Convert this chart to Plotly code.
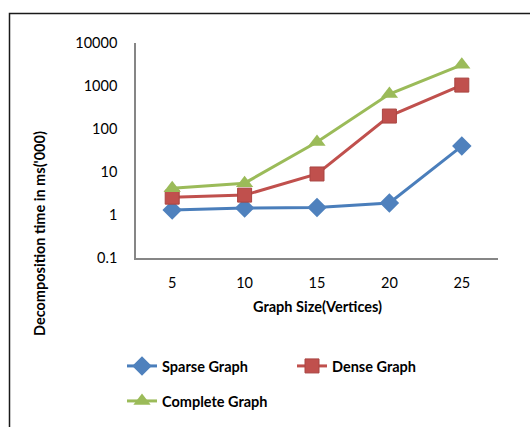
import plotly.graph_objects as go

categories = ["5", "10", "15", "20", "25"]
sparse = [1.3, 1.45, 1.5, 1.9, 40]
dense = [2.6, 2.9, 9, 200, 1050]
complete = [4.2, 5.5, 50, 650, 3100]
y_tickvals = [0.1, 1, 10, 100, 1000, 10000]
y_ticktext = ["0.1", "1", "10", "100", "1000", "10000"]

FONT = "Lato"
FS = 14.5
W, H = 530, 427
L, R, T, B = 136, 32, 43, 169
pw, ph = W - L - R, H - T - B

def px_x(x):
    return (x - L) / pw

def px_y(y):
    return (H - B - y) / ph

fig = go.Figure()
fig.add_trace(go.Scatter(x=categories, y=sparse, name="<b>Sparse Graph</b>", mode="lines+markers",
                         line=dict(color="#4A7EBB", width=3),
                         marker=dict(symbol="diamond", size=15, color="#4F81BD"),
                         legend="legend"))
fig.add_trace(go.Scatter(x=categories, y=dense, name="<b>Dense Graph</b>", mode="lines+markers",
                         line=dict(color="#C0504D", width=3),
                         marker=dict(symbol="square", size=14, color="#C0504D",
                                     line=dict(color="#A94542", width=1)),
                         legend="legend"))
fig.add_trace(go.Scatter(x=categories, y=complete, name="<b>Complete Graph</b>", mode="lines+markers",
                         line=dict(color="#9BBB59", width=3),
                         marker=dict(symbol="triangle-up", size=15, color="#9BBB59"),
                         legend="legend2"))

tick_font = dict(size=FS, family=FONT, color="#000000", weight=400)

fig.update_layout(
    width=W, height=H,
    margin=dict(l=L, r=R, t=T, b=B, autoexpand=False),
    paper_bgcolor="white", plot_bgcolor="white",
    font=dict(family=FONT, size=FS, color="#000000"),
    xaxis=dict(type="category", range=[-0.5, 4.5], showline=True, linecolor="#868686",
               linewidth=1.5, showgrid=False, zeroline=False, ticks="",
               ticklabelstandoff=11, tickfont=tick_font),
    yaxis=dict(type="log", range=[-1, 4], showline=True, linecolor="#868686",
               linewidth=1.5, showgrid=False, zeroline=False, ticks="",
               tickvals=y_tickvals, ticktext=y_ticktext, ticklabelstandoff=14,
               tickfont=tick_font),
    legend=dict(orientation="h", x=px_x(122), y=px_y(350), xanchor="left", yanchor="top",
                entrywidth=125, font=dict(size=FS, family=FONT), bgcolor="rgba(0,0,0,0)"),
    legend2=dict(orientation="h", x=px_x(122), y=px_y(385), xanchor="left", yanchor="top",
                 font=dict(size=FS, family=FONT), bgcolor="rgba(0,0,0,0)"),
    showlegend=True,
)

fig.add_annotation(text="<b>Graph Size(Vertices)</b>", xref="paper", yref="paper",
                   x=px_x(317), y=px_y(306), showarrow=False, xanchor="center", yanchor="middle",
                   font=dict(size=FS, family=FONT))
fig.add_annotation(text="<b>Decomposition time in ms('000)</b>", xref="paper", yref="paper",
                   x=px_x(39), y=px_y(234), showarrow=False, textangle=-90,
                   xanchor="center", yanchor="middle", font=dict(size=FS, family=FONT))

fig.add_shape(type="rect", xref="paper", yref="paper",
              x0=px_x(9.5), y0=px_y(450), x1=px_x(545), y1=px_y(13.5),
              line=dict(color="#1a1a1a", width=1.5), layer="below")

fig.write_html("out.html", config={"displayModeBar": False},
               post_script="document.body.style.margin='0';document.body.style.padding='0';")
